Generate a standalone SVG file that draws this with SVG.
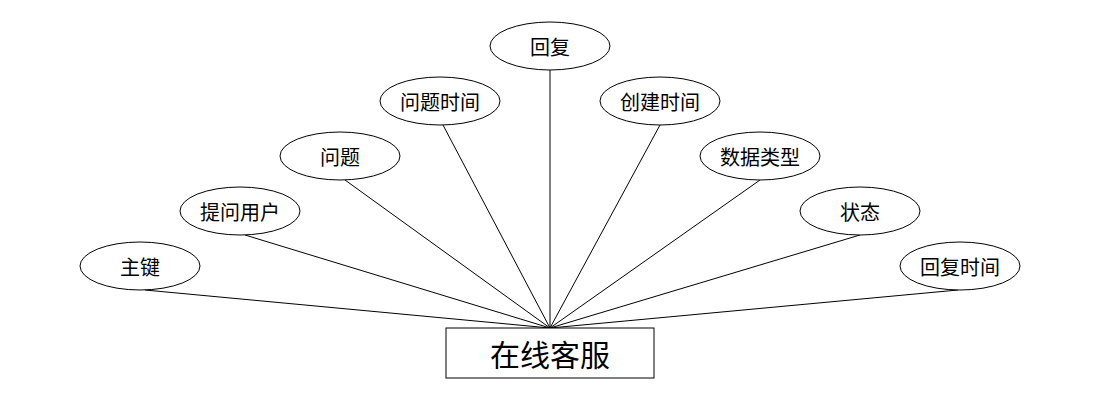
<svg xmlns="http://www.w3.org/2000/svg" width="1100" height="408" viewBox="0 0 1100 408">
<style>
.e{fill:#fff;stroke:#000;stroke-width:1}
.t{font-family:"Noto Sans CJK SC","Liberation Sans",sans-serif;font-size:20px;text-anchor:middle;dominant-baseline:central;fill:#000}
.c line{stroke:#000;stroke-width:1}
</style>
<rect width="1100" height="408" fill="#fff"/>
<g class="c">
<line x1="145" y1="290" x2="550" y2="328"/>
<line x1="245" y1="235" x2="550" y2="328"/>
<line x1="345" y1="180" x2="550" y2="328"/>
<line x1="443" y1="125" x2="550" y2="328"/>
<line x1="550" y1="70" x2="550" y2="328"/>
<line x1="660" y1="125" x2="550" y2="328"/>
<line x1="760" y1="180" x2="550" y2="328"/>
<line x1="860" y1="235" x2="550" y2="328"/>
<line x1="958" y1="290" x2="550" y2="328"/>
</g>
<g id="n1"><ellipse class="e" cx="140" cy="266" rx="60" ry="24"/><text class="t" x="140" y="266">主键</text></g>
<g id="n2"><ellipse class="e" cx="240" cy="211" rx="60" ry="24"/><text class="t" x="240" y="211">提问用户</text></g>
<g id="n3"><ellipse class="e" cx="340" cy="156" rx="60" ry="24"/><text class="t" x="340" y="156">问题</text></g>
<g id="n4"><ellipse class="e" cx="440" cy="101" rx="60" ry="24"/><text class="t" x="440" y="101">问题时间</text></g>
<g id="n5"><ellipse class="e" cx="550" cy="46" rx="60" ry="24"/><text class="t" x="550" y="46">回复</text></g>
<g id="n6"><ellipse class="e" cx="660" cy="101" rx="60" ry="24"/><text class="t" x="660" y="101">创建时间</text></g>
<g id="n7"><ellipse class="e" cx="760" cy="156" rx="60" ry="24"/><text class="t" x="760" y="156">数据类型</text></g>
<g id="n8"><ellipse class="e" cx="860" cy="211" rx="60" ry="24"/><text class="t" x="860" y="211">状态</text></g>
<g id="n9"><ellipse class="e" cx="960" cy="266" rx="60" ry="24"/><text class="t" x="960" y="266">回复时间</text></g>
<g id="main"><rect x="446" y="328" width="208" height="50" fill="#fff" stroke="#000"/><text class="t" x="550" y="353" style="font-size:30px">在线客服</text></g>
</svg>
